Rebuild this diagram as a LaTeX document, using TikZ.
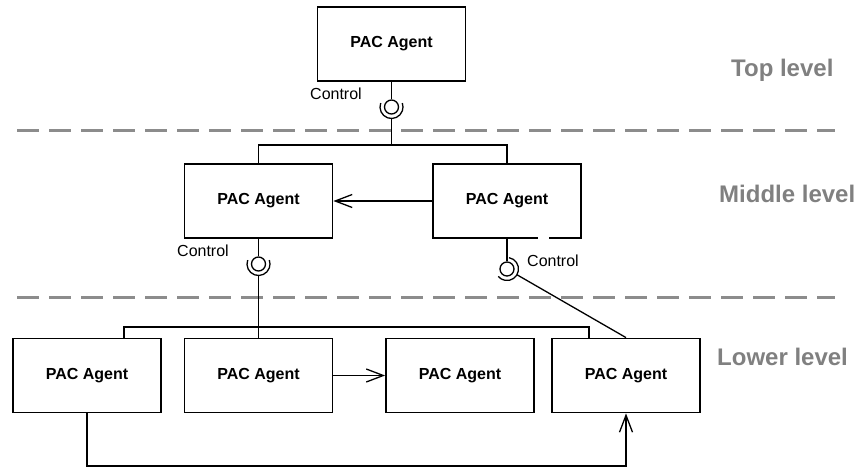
\documentclass[tikz,border=0pt]{standalone}
\usepackage{fontspec}
\setmainfont{Liberation Sans}
\usetikzlibrary{arrows.meta,calc}
\definecolor{lvl}{HTML}{808080}
\definecolor{dash}{HTML}{8C8C8C}
\tikzset{
  agent/.style={draw, line width=1.8pt, minimum width=148pt, minimum height=74pt, inner sep=0pt,
    font=\bfseries\fontsize{16}{19}\selectfont},
  conn/.style={line width=1.3pt},
  openarrow/.style={-{Straight Barb[length=17pt,width=13pt,line width=1.3pt]}},
  ball/.style={circle, draw, line width=1.3pt, minimum size=14pt, inner sep=0pt},
  ctl/.style={anchor=base west, inner sep=0pt, font=\fontsize{16}{19}\selectfont},
  lvltext/.style={anchor=base west, inner sep=0pt, text=lvl, font=\bfseries\fontsize{24}{28}\selectfont},
  sep/.style={draw=dash, line width=3pt, dash pattern=on 22pt off 10pt}
}
\begin{document}
\begin{tikzpicture}[x=1pt,y=-1pt]
\useasboundingbox (0,0) rectangle (859,468);
% separators
\draw[sep] (17,131) -- (835,131);
\draw[sep] (17,297) -- (835,297);
% agents
\node[agent] (top) at (391.5,44) {PAC Agent};
\node[agent] (m1) at (258.5,201) {PAC Agent};
\node[agent] (m2) at (507,201) {PAC Agent};
\node[agent] (b1) at (87,375.5) {PAC Agent};
\node[agent] (b2) at (258.5,375.5) {PAC Agent};
\node[agent] (b3) at (460,375.5) {PAC Agent};
\node[agent] (b4) at (626,375.5) {PAC Agent};
% gap in bottom border of m2
\draw[white, line width=3pt] (538,238) -- (549,238);
% level labels
\node[lvltext] (lt) at (731,77) {Top level};
\node[lvltext] (lm) at (719,202) {Middle level};
\node[lvltext] (lb) at (717,365) {Lower level};
% sockets
\node[ball] (c1) at (391.5,107) {};
\node[ball] (c2) at (258.5,264) {};
\node[ball] (c3) at (507,269) {};
\draw[conn] ($(c1)+(200:11.5)$) arc[start angle=200, end angle=-20, radius=11.5];
\draw[conn] ($(c2)+(200:11.5)$) arc[start angle=200, end angle=-20, radius=11.5];
\draw[conn] ($(c3)+(-80:11.5)$) arc[start angle=-80, end angle=140, radius=11.5];
\coordinate (s1) at ($(c1)+(0,11.5)$);
\coordinate (s2) at ($(c2)+(0,11.5)$);
\coordinate (s3) at ($(c3)+(30:11.5)$);
\node[ctl] (t1) at (310,100) {Control};
\node[ctl] (t2) at (177,256) {Control};
\node[ctl] (t3) at (527,266) {Control};
% top tree
\coordinate (tj) at (391.5,145);
\draw[conn] (top.south) -- (c1.north);
\draw[conn] (s1) -- (tj);
\draw[conn] (m1.north) -- (m1.north |- tj) -- (m2.north |- tj) -- (m2.north);
% middle sockets
\draw[conn] (m1.south) -- (c2.north);
\draw[conn] (s2) -- (b2.north);
\draw[conn] (m2.south) -- (c3.north);
\draw[conn] (s3) -- (b4.north);
% lower tree
\coordinate (lj) at (124,327);
\draw[conn] ([xshift=37pt]b1.north) -- ([xshift=37pt]b1.north |- lj) -- ([xshift=-37pt]b4.north |- lj) -- ([xshift=-37pt]b4.north);
% arrows
\draw[conn, openarrow] (m2.west) -- (m1.east);
\draw[conn, openarrow] (b2.east) -- (b3.west);
\draw[conn, openarrow] (b1.south) -- ++(0,52.5) -| (b4.south);
\end{tikzpicture}
\end{document}
